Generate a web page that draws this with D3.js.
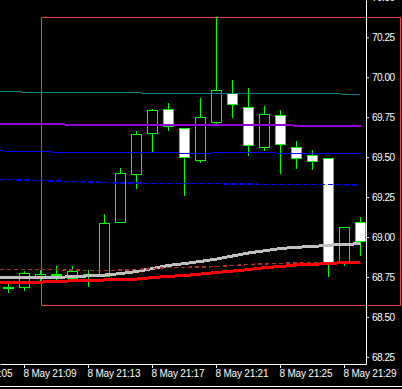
<!DOCTYPE html>
<html>
<head>
<meta charset="utf-8">
<script src="https://cdn.jsdelivr.net/npm/d3@7"></script>
<style>
  html, body { margin: 0; padding: 0; background: #000; overflow: hidden; }
  svg { display: block; }
  .axis text { font-family: "Liberation Sans", Arial, sans-serif; font-size: 10px; fill: #fff; }
  .axis path, .axis line { stroke: #fff; }
</style>
</head>
<body>
<svg class="chart"></svg>
<script>
//======
// Data
//======

// minutes after 21:00, one candle per minute
var candleMinutes = d3.range(8, 31);
var opens  = [68.688, 68.685, 68.749, 68.769, 68.743, 68.769, 68.756, 69.092, 69.393, 69.649, 69.800, 69.681, 69.478, 69.716, 69.900, 69.812, 69.562, 69.762, 69.562, 69.513, 69.493, 68.839, 69.092];
var highs  = [68.706, 68.785, 68.793, 68.818, 68.817, 68.793, 69.144, 69.430, 69.664, 69.801, 69.839, 69.683, 69.872, 70.376, 69.983, 69.933, 69.820, 69.795, 69.601, 69.545, 69.495, 69.063, 69.127];
var lows   = [68.649, 68.664, 68.723, 68.733, 68.743, 68.685, 68.750, 69.092, 69.301, 69.534, 69.666, 69.259, 69.462, 69.708, 69.747, 69.509, 69.540, 69.393, 69.426, 69.420, 68.751, 68.820, 68.883];
var closes = [68.686, 68.775, 68.768, 68.771, 68.785, 68.771, 69.086, 69.399, 69.643, 69.795, 69.695, 69.499, 69.750, 69.919, 69.831, 69.576, 69.770, 69.582, 69.493, 69.478, 68.842, 69.061, 68.971];

// indicator lines start one bar earlier (21:07)
var lineMinutes = d3.range(7, 31);
var tealLine   = [69.914, 69.911, 69.907, 69.906, 69.906, 69.905, 69.905, 69.904, 69.903, 69.902, 69.901, 69.901, 69.900, 69.900, 69.900, 69.900, 69.900, 69.899, 69.899, 69.899, 69.898, 69.897, 69.895, 69.894];
var purpleLine = [69.710, 69.709, 69.708, 69.707, 69.705, 69.704, 69.703, 69.703, 69.703, 69.702, 69.702, 69.702, 69.701, 69.701, 69.701, 69.700, 69.700, 69.700, 69.699, 69.698, 69.698, 69.697, 69.697, 69.697];
var blueLine   = [69.540, 69.538, 69.537, 69.535, 69.531, 69.530, 69.530, 69.530, 69.530, 69.530, 69.529, 69.528, 69.525, 69.524, 69.527, 69.529, 69.526, 69.528, 69.525, 69.524, 69.524, 69.524, 69.524, 69.524];
var blueDashed = [69.362, 69.360, 69.356, 69.354, 69.350, 69.348, 69.345, 69.342, 69.338, 69.337, 69.336, 69.336, 69.336, 69.335, 69.334, 69.332, 69.331, 69.330, 69.330, 69.330, 69.330, 69.330, 69.328, 69.324];
var brownDashed = [68.798, 68.798, 68.798, 68.798, 68.796, 68.793, 68.791, 68.791, 68.792, 68.796, 68.803, 68.809, 68.810, 68.812, 68.815, 68.821, 68.828, 68.832, 68.835, 68.837, 68.839, 68.842, 68.842, 68.843];
var redLine    = [68.712, 68.714, 68.715, 68.718, 68.721, 68.726, 68.726, 68.731, 68.734, 68.737, 68.746, 68.754, 68.759, 68.768, 68.778, 68.787, 68.796, 68.809, 68.815, 68.825, 68.829, 68.834, 68.840, 68.843];
var grayLine   = [68.746, 68.748, 68.748, 68.748, 68.748, 68.751, 68.757, 68.762, 68.771, 68.784, 68.803, 68.822, 68.834, 68.847, 68.862, 68.881, 68.900, 68.914, 68.928, 68.936, 68.940, 68.949, 68.954, 68.958];

// rectangle object: time span (minutes) and price span
var boxMinutes = [10.06, 32.5];
var boxPrices = [68.574, 70.378];

// axis ticks
var priceTicks = [68.25, 68.50, 68.75, 69.00, 69.25, 69.50, 69.75, 70.00, 70.25, 70.50];
var timeTicks = [5, 9, 13, 17, 21, 25, 29];
var timeLabels = ["8 May 21:05", "8 May 21:09", "8 May 21:13", "8 May 21:17", "8 May 21:21", "8 May 21:25", "8 May 21:29"];

//=======
// Chart
//=======

function buildCandleChart() {
  var width = 402,
    height = 389,
    axisX = 366,
    axisY = 364;

  var svg = d3.select(".chart")
    .attr("width", width)
    .attr("height", height);

  svg.append("rect")
    .attr("width", width)
    .attr("height", height)
    .attr("fill", "#000");

  var x = d3.scaleLinear()
    .domain([7.5, 30.375])
    .range([0, axisX]);

  var y = d3.scaleLinear()
    .domain([68.205, 70.484])
    .range([axisY, 0]);

  // rectangle object, behind everything
  svg.append("rect")
    .attr("x", x(boxMinutes[0]) + 0.5)
    .attr("y", y(boxPrices[1]) + 0.5)
    .attr("width", x(boxMinutes[1]) - x(boxMinutes[0]))
    .attr("height", y(boxPrices[0]) - y(boxPrices[1]))
    .attr("fill", "none")
    .attr("stroke", "#e8463a")
    .attr("shape-rendering", "crispEdges");

  // Candles
  var candles = candleMinutes.map(function(m, i) {
    return { m: m, o: opens[i], h: highs[i], l: lows[i], c: closes[i] };
  });

  var g = svg.append("g").attr("shape-rendering", "crispEdges");

  g.selectAll(".wick-top")
    .data(candles)
    .enter()
    .append("line")
    .attr("x1", function(d) { return x(d.m) + 0.5; })
    .attr("x2", function(d) { return x(d.m) + 0.5; })
    .attr("y1", function(d) { return y(d.h); })
    .attr("y2", function(d) { return y(Math.max(d.o, d.c)); })
    .attr("stroke", "#00ff00");

  g.selectAll(".wick-bottom")
    .data(candles)
    .enter()
    .append("line")
    .attr("x1", function(d) { return x(d.m) + 0.5; })
    .attr("x2", function(d) { return x(d.m) + 0.5; })
    .attr("y1", function(d) { return y(Math.min(d.o, d.c)); })
    .attr("y2", function(d) { return y(d.l); })
    .attr("stroke", "#00ff00");

  g.selectAll(".body")
    .data(candles)
    .enter()
    .append("rect")
    .attr("x", function(d) { return x(d.m) - 4.5; })
    .attr("y", function(d) { return Math.round(y(Math.max(d.o, d.c))) + 0.5; })
    .attr("width", 10)
    .attr("height", function(d) { return Math.max(1, Math.round(y(Math.min(d.o, d.c)) - y(Math.max(d.o, d.c)))); })
    .attr("fill", function(d) { return d.c > d.o ? "none" : "#fff"; })
    .attr("stroke", "#00ff00");

  // Indicator lines
  var line = d3.line()
    .x(function(d) { return x(d.m) + 0.5; })
    .y(function(d) { return y(d.v); });

  function addLine(values, color, w, dash) {
    var pts = lineMinutes.map(function(m, i) { return { m: m, v: values[i] }; });
    svg.append("path")
      .datum(pts)
      .attr("d", line)
      .attr("fill", "none")
      .attr("stroke", color)
      .attr("stroke-width", w)
      .attr("stroke-dasharray", dash || null)
      .attr("shape-rendering", "crispEdges");
  }

  addLine(grayLine, "#c0c0c0", 3);
  addLine(brownDashed, "#b0302c", 1.5, "4,3");
  addLine(redLine, "#ff0000", 3);
  addLine(tealLine, "#008080", 1);
  addLine(purpleLine, "#9400d3", 2);
  addLine(blueLine, "#0000ff", 1);
  addLine(blueDashed, "#0000ff", 1.5, "5,3");

  // Y-Axis
  var yAxis = svg.append("g")
    .attr("class", "axis")
    .attr("transform", "translate(" + axisX + ",0)")
    .call(d3.axisRight(y)
      .tickValues(priceTicks)
      .tickFormat(d3.format(".2f"))
      .tickSize(3)
      .tickSizeOuter(0)
      .tickPadding(3));
  yAxis.selectAll("text").attr("letter-spacing", "-0.5px");

  // X-Axis
  var xAxis = svg.append("g")
    .attr("class", "axis")
    .attr("transform", "translate(0," + axisY + ")")
    .call(d3.axisBottom(x)
      .tickValues(timeTicks)
      .tickFormat(function(d, i) { return timeLabels[i]; })
      .tickSize(4)
      .tickSizeOuter(0)
      .tickPadding(2));
  xAxis.selectAll("text")
    .attr("text-anchor", "start")
    .attr("x", -1)
    .attr("letter-spacing", "-0.2px");

  // bottom frame line
  svg.append("line")
    .attr("x1", 0)
    .attr("x2", width)
    .attr("y1", 386.5)
    .attr("y2", 386.5)
    .attr("stroke", "#fff");
}

buildCandleChart();
</script>
</body>
</html>
